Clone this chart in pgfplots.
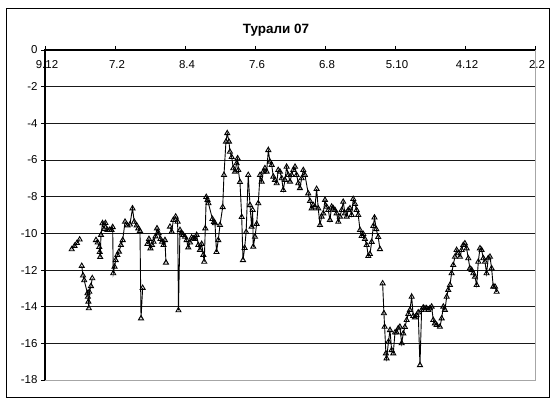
\documentclass[border=0pt]{standalone}
\usepackage{fontspec}
\setmainfont{Liberation Sans}
\usepackage{pgfplots}
\pgfplotsset{compat=1.18}

% x = days after 9.12, y = value
\begin{document}
\begin{tikzpicture}[x=1bp,y=1bp]
\path[use as bounding box] (0,0) rectangle (552,399);
\draw[black, line width=1bp] (6,2) rectangle (549,390);
\node[font=\bfseries\fontsize{13.5}{15}\selectfont] at (276,369) {Турали 07};
\begin{axis}[
    at={(45bp,19bp)}, anchor=south west,
    width=490bp, height=330bp, scale only axis,
    xmin=0, xmax=420, ymin=-18, ymax=0,
    axis line style={draw=gray!70, line width=0.9bp},
    xtick={0,60,...,420},
    xticklabels={9.12,7.2,8.4,7.6,6.8,5.10,4.12,2.2},
    xtick pos=right, xticklabel pos=right,
    xticklabel style={anchor=north, yshift=-11bp, xshift=2bp},
    ytick={-16,-14,...,-2},
    yticklabels={-16,-14,-12,-10,-8,-6,-4,-2},
    extra y ticks={-18,0},
    extra y tick labels={-18,0},
    extra y tick style={grid=none},
    ytick pos=left,
    tick align=outside,
    major tick length=4bp,
    tick style={black, line width=0.9bp},
    ymajorgrids,
    major grid style={black!90, line width=0.85bp},
    tick label style={font=\fontsize{11.5}{13}\selectfont},
    unbounded coords=jump,
    clip=false,
]
\draw[black, line width=1.1bp] (rel axis cs:0,0) -- (rel axis cs:0,1) -- (rel axis cs:1,1);
\addplot[black, line width=0.9bp, mark=triangle, mark size=2.9bp,
    mark options={solid, fill=white, line width=0.9bp}] coordinates {
(22.9,-10.87) (25.3,-10.69) (27.4,-10.53) (29.7,-10.34) (31,nan)
(31.5,-11.78) (32.6,-12.30) (33.6,-12.56) (36.4,-13.27) (36.8,-13.46)
(37.2,-13.73) (37.6,-14.09) (38.0,-13.19) (39.4,-12.88) (40.5,-12.45) (42,nan)
(43.7,-10.37) (45.2,-10.50) (46.5,-10.75) (46.9,-11.02) (47.3,-11.29)
(48.0,-10.09) (49.3,-9.45) (50.6,-9.77) (51.8,-9.44) (53.6,-9.82)
(55.3,-9.82) (57.0,-9.82) (58.0,-9.66) (58.5,-12.18) (59.6,-11.82)
(60.6,-11.46) (62.0,-11.18) (63.4,-11.00) (65.1,-10.64) (66.6,-10.37)
(68.6,-9.37) (70.7,-9.57) (72.8,-9.52) (75.0,-8.64) (76.5,-9.37)
(78.6,-9.57) (80.0,-9.73) (81.4,-9.87) (82.3,-14.64) (83.7,-12.98) (85,nan)
(87.8,-10.58) (89.1,-10.31) (90.4,-10.82) (91.7,-10.64) (93.0,-10.46)
(94.7,-10.17) (96.0,-9.73) (97.4,-10.00) (99.0,-10.31) (100.3,-10.46)
(101.6,-10.64) (102.8,-10.37) (103.7,-11.60) (105,nan)
(107.1,-9.64) (108.6,-9.91) (110.0,-9.27) (112.0,-9.09) (113.7,-9.37)
(114.4,-14.20) (115.7,-9.82) (117.2,-10.00) (118.5,-10.09) (120.0,-10.19)
(121.4,-10.37) (122.8,-10.77) (124.3,-10.50) (125.7,-10.23) (127.1,-10.28)
(128.6,-10.31) (130.0,-10.09) (131.4,-10.64) (132.8,-10.91) (134.3,-10.58)
(135.7,-11.18) (136.5,-11.55) (137.4,-9.73) (138.2,-8.02) (139.3,-8.18)
(140.1,-8.36) (143.5,-9.22) (144.8,-9.38) (145.7,-9.45) (147.0,-11.02)
(148.5,-10.37) (150.0,-9.55) (152.3,-8.57) (153.4,-6.82) (155.1,-5.00)
(156.2,-4.54) (157.7,-5.00) (158.5,-5.55) (160.0,-5.84) (161.4,-6.45)
(162.8,-6.64) (164.3,-6.18) (165.1,-5.91) (165.7,-6.55) (167.1,-7.20)
(168.6,-9.11) (169.7,-11.46) (171.1,-10.80) (172.4,-9.93) (174.2,-6.82)
(175.7,-8.46) (177.1,-9.64) (178.0,-8.73) (178.5,-10.73) (180.0,-10.19)
(181.4,-9.49) (182.8,-8.36) (184.3,-6.82) (185.7,-7.18) (187.1,-6.64)
(188.5,-6.45) (190.0,-6.64) (191.4,-5.46) (192.8,-6.09) (194.3,-6.27)
(195.7,-6.91) (197.1,-7.09) (198.6,-7.27) (199.9,-6.55) (201.4,-6.64)
(202.9,-7.00) (204.2,-7.64) (205.7,-7.09) (207.1,-6.37) (208.5,-6.82)
(210.0,-7.18) (211.4,-6.82) (212.8,-6.55) (214.3,-6.37) (215.7,-6.82)
(217.1,-7.27) (218.5,-7.54) (220.0,-7.00) (221.4,-6.55) (222.8,-6.82)
(225.6,-7.82) (227.1,-8.24) (228.6,-8.64) (229.9,-8.46) (231.4,-8.55)
(232.8,-7.58) (234.2,-8.64) (235.7,-9.55) (237.1,-9.09) (238.5,-8.91)
(240.0,-8.18) (241.4,-8.55) (242.8,-8.73) (244.2,-9.27) (245.7,-8.55)
(247.1,-8.64) (248.5,-8.73) (250.0,-8.91) (251.4,-9.37) (252.8,-9.09)
(254.3,-8.73) (255.6,-8.28) (257.1,-8.91) (258.6,-9.09) (259.9,-8.73)
(261.4,-8.64) (262.8,-9.00) (264.2,-8.13) (265.7,-8.40) (267.1,-8.73)
(268.5,-9.00) (270.0,-9.82) (271.4,-10.15) (272.8,-10.04) (274.2,-10.31)
(275.7,-10.64) (277.1,-11.24) (278.5,-11.13) (280.0,-10.47) (281.4,-9.60)
(282.4,-9.14) (283.9,-9.77) (285.6,-10.20) (287.1,-10.86) (288,nan)
(289.4,-12.73) (290.5,-14.36) (291.1,-15.10) (292.2,-16.55) (292.8,-16.82)
(294.4,-15.91) (295.7,-15.28) (297.1,-16.37) (298.5,-16.55) (300.0,-15.41)
(301.4,-15.41) (302.8,-15.18) (304.2,-15.10) (305.7,-16.00) (307.1,-15.46)
(308.5,-15.11) (310.0,-14.73) (311.4,-14.40) (312.8,-14.18) (314.3,-13.46)
(315.6,-14.51) (317.1,-14.59) (318.5,-14.46) (319.9,-14.32) (321.4,-17.19)
(322.8,-14.18) (324.2,-14.05) (325.7,-14.09) (327.1,-14.09) (328.5,-14.18)
(329.9,-14.09) (331.4,-14.00) (332.8,-14.73) (334.2,-14.91) (335.7,-15.00)
(338.5,-15.10) (340.0,-14.64) (341.4,-14.00) (342.8,-14.18) (344.3,-13.46)
(345.6,-13.09) (347.1,-12.82) (348.5,-12.18) (349.9,-11.73) (351.4,-11.28)
(352.8,-10.91) (354.2,-11.09) (355.7,-11.28) (357.1,-10.91) (358.5,-10.64)
(359.9,-10.55) (361.4,-10.82) (362.8,-11.36) (364.2,-11.91) (365.7,-12.00)
(367.1,-12.18) (368.5,-12.37) (370.0,-12.82) (371.4,-11.55) (372.8,-10.82)
(374.2,-10.91) (375.7,-11.36) (377.1,-11.55) (378.5,-12.18) (379.9,-11.36)
(381.4,-11.28) (382.8,-11.91) (384.2,-12.91) (385.7,-12.91) (387.1,-13.19)
};
\end{axis}
\end{tikzpicture}
\end{document}
